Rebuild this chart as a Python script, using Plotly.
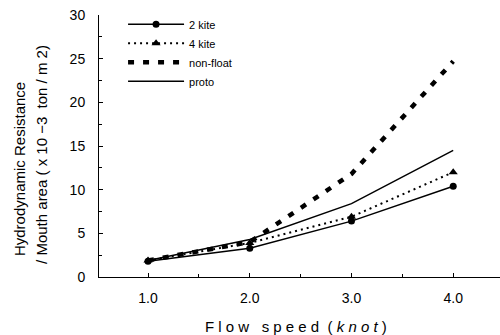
import plotly.graph_objects as go

speed = [1.0, 2.0, 3.0, 4.0]
kite2 = [1.8, 3.3, 6.4, 10.4]
kite4 = [1.9, 3.9, 6.9, 12.0]
nonfloat = [1.9, 4.0, 11.8, 24.7]
proto = [1.9, 4.3, 8.4, 14.5]
x_ticks = [1.0, 2.0, 3.0, 4.0]
x_tick_text = ["1.0", "2.0", "3.0", "4.0"]
y_ticks = [0, 5, 10, 15, 20, 25, 30]

fig = go.Figure()
fig.add_trace(go.Scatter(x=speed, y=kite2, name="2 kite", mode="lines+markers",
                         line=dict(color="black", width=1.5),
                         marker=dict(symbol="circle", size=7, color="black")))
fig.add_trace(go.Scatter(x=speed, y=kite4, name="4 kite", mode="lines+markers",
                         line=dict(color="black", width=2, dash="2px,4px"),
                         marker=dict(symbol="triangle-up", size=8, color="black")))
fig.add_trace(go.Scatter(x=speed, y=nonfloat, name="non-float", mode="lines",
                         line=dict(color="black", width=4.5, dash="6px,9px")))
fig.add_trace(go.Scatter(x=speed, y=proto, name="proto", mode="lines",
                         line=dict(color="black", width=1.5)))

font = dict(family="Liberation Sans, Arial, sans-serif", color="black")
fig.update_layout(
    width=500, height=335,
    margin=dict(l=99, r=0, t=15, b=58),
    paper_bgcolor="white", plot_bgcolor="white",
    font=dict(size=12, **font),
    showlegend=True,
    legend=dict(x=0.06, y=1.02, xanchor="left", yanchor="top",
                bgcolor="rgba(0,0,0,0)", font=dict(size=11, **font),
                itemwidth=56, tracegroupgap=0),
    xaxis=dict(range=[0.518, 4.46], tickvals=x_ticks, ticktext=x_tick_text,
               showline=True, linecolor="black", linewidth=1, showgrid=False,
               zeroline=False, ticks="inside", ticklen=4, tickcolor="black",
               minor=dict(dtick=0.5, tick0=0, ticks="inside", ticklen=3, tickcolor="black"),
               tickfont=dict(size=14, **font), ticklabelstandoff=8),
    yaxis=dict(range=[0, 30], tickvals=y_ticks,
               showline=True, linecolor="black", linewidth=1, showgrid=False,
               zeroline=False, ticks="inside", ticklen=4, tickcolor="black",
               minor=dict(dtick=2.5, ticks="inside", ticklen=3, tickcolor="black"),
               tickfont=dict(size=14, **font), ticklabelstandoff=10),
    annotations=[
        dict(text="Hydrodynamic Resistance", xref="paper", yref="paper",
             x=0, y=0.412, xshift=-80, xanchor="center", yanchor="middle",
             textangle=-90, showarrow=False, font=dict(size=15, **font)),
        dict(text="/ Mouth area ( x 10 −3 &nbsp;ton / m 2)", xref="paper", yref="paper",
             x=0, y=0.466, xshift=-57, xanchor="center", yanchor="middle",
             textangle=-90, showarrow=False, font=dict(size=15, **font)),
        dict(text="F l o w &nbsp; s p e e d &nbsp;( <i>k n o t</i> )", xref="paper", yref="paper",
             x=0.491, y=0, yshift=-49, xanchor="center", yanchor="middle",
             showarrow=False, font=dict(size=15, **font)),
    ],
)
fig.write_html("out.html", config={"displayModeBar": False},
               post_script="document.body.style.margin='0';document.body.style.overflow='hidden';")
